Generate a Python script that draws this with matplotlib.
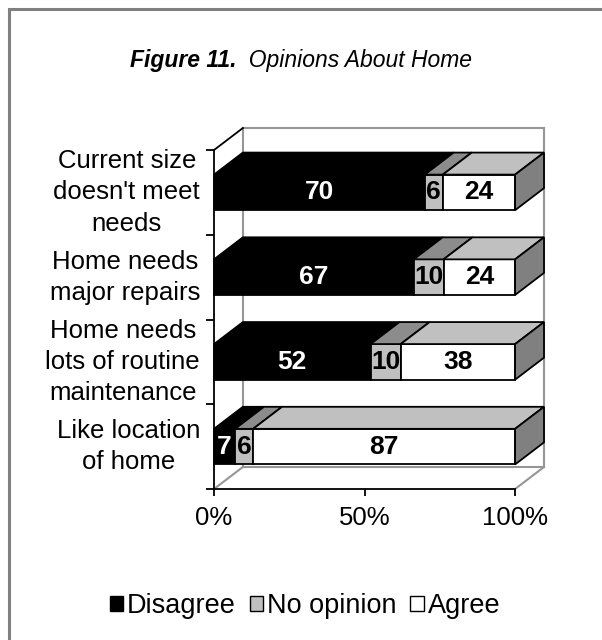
import matplotlib
matplotlib.use('Agg')
import matplotlib.pyplot as plt
from matplotlib.patches import Polygon, Patch, Rectangle
from matplotlib.lines import Line2D

plt.rcParams['font.family'] = ['Liberation Sans', 'DejaVu Sans']

# ---------------- data ----------------
categories = ["Current size\ndoesn't meet\nneeds",
              "Home needs\nmajor repairs",
              "Home needs\nlots of routine\nmaintenance",
              "Like location\nof home"]
disagree = [70, 67, 52, 7]
no_opinion = [6, 10, 10, 6]
agree = [24, 24, 38, 87]
series_names = ["Disagree", "No opinion", "Agree"]
xtick_vals = [0, 50, 100]
xtick_labels = ["0%", "50%", "100%"]
title_bold = "Figure 11."
title_rest = "  Opinions About Home"

# ---------------- style ----------------
W, H = 602, 640
front_colors = ['#000000', '#c0c0c0', '#ffffff']
top_colors = ['#000000', '#8c8c8c', '#c0c0c0']
side_colors = ['#000000', '#808080', '#808080']
label_colors = ['white', 'black', 'black']
DX = 9.6      # depth offset in x data units
DY = 0.26     # depth offset in y data units
BAR_H = 0.42
EDGE_LW = 1.3
WALL = '#969696'

fig = plt.figure(figsize=(W / 100, H / 100), dpi=100)
fig.patch.set_facecolor('white')

# outer gray frame (extends off-canvas right/bottom)
fig.patches.append(Rectangle((8.5 / W, -0.2), 1.5, 1.2 - 8.5 / H, transform=fig.transFigure,
                             facecolor='none', edgecolor='#808080', lw=2.2))

# axes placement in pixels
ax_left, ax_right, ax_top, ax_bottom = 214, 544, 128, 489
ax = fig.add_axes([ax_left / W, 1 - ax_bottom / H, (ax_right - ax_left) / W, (ax_bottom - ax_top) / H])
ax.set_xlim(0, 100 + DX)
ax.set_ylim(0, len(categories) + DY)
ax.set_facecolor('none')

n = len(categories)
# walls
top = n
wall_lines = [
    ([DX, DX], [DY, top + DY]),
    ([100 + DX, 100 + DX], [DY, top + DY]),
    ([DX, 100 + DX], [top + DY, top + DY]),
    ([DX, 100 + DX], [DY, DY]),
    ([0, DX], [0, DY]),
    ([100, 100 + DX], [0, DY]),
]
for xs, ys in wall_lines:
    ax.add_line(Line2D(xs, ys, color=WALL, lw=1.5, clip_on=False, zorder=1))
ax.add_line(Line2D([0, DX], [top, top + DY], color='black', lw=1.3, clip_on=False, zorder=1))

# bars
for i, cat in enumerate(categories):
    yc = n - 0.5 - i
    raw = [disagree[i], no_opinion[i], agree[i]]
    tot = sum(raw)
    vals = [v / tot * 100 for v in raw]
    y0, y1 = yc - BAR_H / 2, yc + BAR_H / 2
    left = 0
    for k, v in enumerate(vals):
        right = left + v
        # front
        ax.add_patch(Polygon([(left, y0), (right, y0), (right, y1), (left, y1)], closed=True,
                             facecolor=front_colors[k], edgecolor='black', lw=EDGE_LW,
                             zorder=3, clip_on=False))
        # top
        ax.add_patch(Polygon([(left, y1), (right, y1), (right + DX, y1 + DY), (left + DX, y1 + DY)],
                             closed=True, facecolor=top_colors[k], edgecolor='black', lw=EDGE_LW,
                             zorder=3, clip_on=False))
        ax.text((left + right) / 2, yc, str(raw[k]), ha='center', va='center',
                color=label_colors[k], fontsize=19, fontweight='bold', zorder=5)
        left = right
    # right side
    ax.add_patch(Polygon([(left, y0), (left + DX, y0 + DY), (left + DX, y1 + DY), (left, y1)],
                         closed=True, facecolor=side_colors[2], edgecolor='black', lw=EDGE_LW,
                         zorder=3, clip_on=False))

# axes / ticks
for s in ['top', 'right']:
    ax.spines[s].set_visible(False)
ax.spines['left'].set_bounds(0, n)
ax.spines['bottom'].set_bounds(0, 100)
ax.spines['left'].set_linewidth(1.3)
ax.spines['bottom'].set_linewidth(1.3)
ax.set_xticks(xtick_vals)
ax.set_xticklabels(xtick_labels, fontsize=18.5)
ax.tick_params(axis='x', direction='out', length=5, width=1.3, pad=7)
ax.set_yticks([n - 0.5 - i for i in range(n)])
ax.set_yticklabels(categories, fontsize=18.5, multialignment='center', linespacing=1.38)
for lab in ax.get_yticklabels():
    lab.set_va('center')
ax.tick_params(axis='y', which='major', length=0, pad=10)
ax.set_yticks(list(range(n + 1)), minor=True)
ax.tick_params(axis='y', which='minor', direction='out', length=6, width=1.3)

# title
t1 = fig.text(0.5, 1 - 60 / H, title_bold, fontsize=16.5, fontweight='bold', fontstyle='italic',
              ha='left', va='center')
fig.canvas.draw()
r = fig.canvas.get_renderer()
bb1 = t1.get_window_extent(r)
t2 = fig.text(0, 1 - 60 / H, title_rest, fontsize=16.5, fontstyle='italic', ha='left', va='center')
bb2 = t2.get_window_extent(r)
total = bb1.width + bb2.width
x0 = (W / 2 - total / 2)
t1.set_x(x0 / W)
t2.set_x((x0 + bb1.width) / W)

# legend
handles = [Patch(facecolor=c, edgecolor='black', lw=1.0) for c in front_colors]
fig.legend(handles, series_names, loc='center', bbox_to_anchor=(305 / W, 1 - 606 / H), ncol=3,
           frameon=False, handlelength=0.5, handleheight=0.5, handletextpad=0.15,
           columnspacing=0.5, fontsize=19.5)

fig.savefig('out.png', dpi=100, facecolor='white')
